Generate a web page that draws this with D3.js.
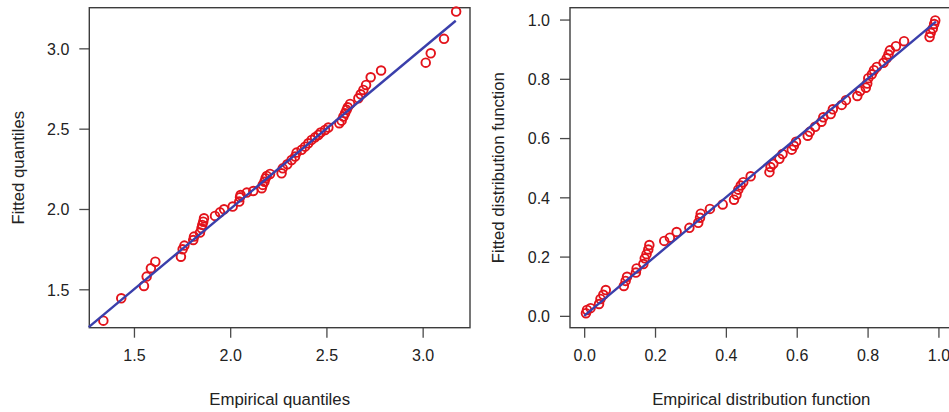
<!DOCTYPE html>
<html>
<head>
<meta charset="utf-8">
<script src="https://cdn.jsdelivr.net/npm/d3@7"></script>
<style>
  html, body { margin: 0; padding: 0; background: #fff; }
  svg { display: block; }
  text { font-family: "Liberation Sans", Arial, sans-serif; fill: #222; }
</style>
</head>
<body>
<svg id="chart" width="949" height="412"></svg>
<script>
// Q-Q plot: empirical vs fitted quantiles
const qqEmpirical = [1.341, 1.434, 1.552, 1.566, 1.588, 1.611, 1.744, 1.753, 1.762, 1.808,
  1.812, 1.843, 1.851, 1.855, 1.860, 1.864, 1.921, 1.947, 1.968, 2.013,
  2.047, 2.051, 2.054, 2.086, 2.120, 2.164, 2.169, 2.178, 2.184, 2.190,
  2.207, 2.267, 2.273, 2.297, 2.319, 2.337, 2.345, 2.371, 2.389, 2.406,
  2.423, 2.441, 2.458, 2.470, 2.493, 2.510, 2.567, 2.579, 2.588, 2.597,
  2.605, 2.611, 2.623, 2.666, 2.678, 2.692, 2.706, 2.730, 2.784, 3.016,
  3.042, 3.111, 3.174];
const qqFitted = [1.305, 1.444, 1.521, 1.579, 1.631, 1.672, 1.703, 1.749, 1.772, 1.807,
  1.828, 1.853, 1.880, 1.901, 1.921, 1.942, 1.957, 1.979, 1.998, 2.015,
  2.046, 2.073, 2.087, 2.102, 2.112, 2.129, 2.150, 2.170, 2.191, 2.206,
  2.218, 2.222, 2.253, 2.278, 2.305, 2.326, 2.351, 2.368, 2.388, 2.409,
  2.430, 2.446, 2.461, 2.476, 2.492, 2.507, 2.534, 2.550, 2.575, 2.596,
  2.617, 2.633, 2.654, 2.689, 2.714, 2.741, 2.772, 2.820, 2.862, 2.911,
  2.969, 3.059, 3.229];
const qqTicks = [1.5, 2.0, 2.5, 3.0];
const qqLineEnds = [1.265, 3.172];

// P-P plot: empirical vs fitted distribution function
const ppEmpirical = [0.005, 0.008, 0.018, 0.042, 0.046, 0.054, 0.061, 0.112, 0.117, 0.121,
  0.146, 0.148, 0.167, 0.171, 0.176, 0.181, 0.184, 0.226, 0.242, 0.261,
  0.297, 0.322, 0.327, 0.329, 0.355, 0.391, 0.423, 0.430, 0.435, 0.442,
  0.449, 0.470, 0.523, 0.526, 0.534, 0.551, 0.560, 0.586, 0.592, 0.598,
  0.631, 0.637, 0.652, 0.670, 0.675, 0.696, 0.702, 0.727, 0.739, 0.771,
  0.779, 0.795, 0.799, 0.802, 0.812, 0.818, 0.826, 0.845, 0.854, 0.859,
  0.863, 0.880, 0.903, 0.975, 0.978, 0.984, 0.988, 0.991];
const ppFitted = [0.009, 0.020, 0.026, 0.040, 0.057, 0.071, 0.087, 0.101, 0.118, 0.132,
  0.146, 0.160, 0.175, 0.194, 0.208, 0.224, 0.239, 0.253, 0.264, 0.283,
  0.297, 0.314, 0.331, 0.345, 0.361, 0.376, 0.392, 0.409, 0.426, 0.440,
  0.451, 0.471, 0.485, 0.502, 0.513, 0.530, 0.546, 0.561, 0.574, 0.588,
  0.608, 0.621, 0.638, 0.655, 0.670, 0.681, 0.697, 0.712, 0.728, 0.742,
  0.759, 0.770, 0.784, 0.802, 0.815, 0.829, 0.840, 0.854, 0.869, 0.882,
  0.896, 0.910, 0.927, 0.941, 0.955, 0.970, 0.985, 0.997];
const ppTicks = [0.0, 0.2, 0.4, 0.6, 0.8, 1.0];
const ppLineEnds = [0.0, 0.993];

const svg = d3.select("#chart");
const plotTop = 7.7, plotBottom = 327.7;
const boxColor = "#3c3c3c";
const pointColor = "#e3131b";
const lineColor = "#3a3fab";

function panel(cfg) {
  const x = d3.scaleLinear().domain(cfg.xDomain).range([cfg.left, cfg.right]);
  const y = d3.scaleLinear().domain(cfg.yDomain).range([plotBottom, plotTop]);
  const g = svg.append("g");

  // bottom axis
  const xa = g.append("g")
    .attr("transform", `translate(0,${plotBottom})`)
    .call(d3.axisBottom(x).tickValues(cfg.ticks).tickFormat(d3.format(".1f"))
      .tickSize(10).tickPadding(12));
  // left axis
  const ya = g.append("g")
    .attr("transform", `translate(${cfg.left},0)`)
    .call(d3.axisLeft(y).tickValues(cfg.ticks).tickFormat(d3.format(".1f"))
      .tickSize(10).tickPadding(10));
  [xa, ya].forEach(a => {
    a.select(".domain").remove();
    a.selectAll(".tick line").attr("stroke", "#4a4a4a").attr("stroke-width", 1.3);
    a.selectAll(".tick text")
      .style("font-family", '"Liberation Sans", Arial, sans-serif')
      .style("font-size", "16px").attr("fill", "#222");
  });
  ya.selectAll(".tick text").attr("dy", "0.36em");

  // frame
  g.append("rect")
    .attr("x", cfg.left).attr("y", plotTop)
    .attr("width", cfg.right - cfg.left).attr("height", plotBottom - plotTop)
    .attr("fill", "none").attr("stroke", boxColor).attr("stroke-width", 1.4);

  // points
  g.append("g").selectAll("circle")
    .data(cfg.xs.map((v, i) => [v, cfg.ys[i]]))
    .join("circle")
    .attr("cx", d => x(d[0])).attr("cy", d => y(d[1]))
    .attr("r", 4.3)
    .attr("fill", "none").attr("stroke", pointColor).attr("stroke-width", 1.9);

  // reference line y = x
  g.append("line")
    .attr("x1", x(cfg.lineEnds[0])).attr("y1", y(cfg.lineEnds[0]))
    .attr("x2", x(cfg.lineEnds[1])).attr("y2", y(cfg.lineEnds[1]))
    .attr("stroke", lineColor).attr("stroke-width", 2.4);

  // axis titles
  const cx = (cfg.left + cfg.right) / 2;
  g.append("text")
    .attr("x", cx).attr("y", 405)
    .attr("text-anchor", "middle").style("font-size", "16.8px")
    .text(cfg.xTitle);
  g.append("text")
    .attr("transform", `translate(${cfg.yTitleX},${(plotTop + plotBottom) / 2}) rotate(-90)`)
    .attr("text-anchor", "middle").style("font-size", "16.8px")
    .text(cfg.yTitle);
}

panel({
  left: 89.3, right: 470,
  xDomain: [1.268, 3.246], yDomain: [1.261, 3.253],
  ticks: qqTicks, xs: qqEmpirical, ys: qqFitted, lineEnds: qqLineEnds,
  xTitle: "Empirical quantiles", yTitle: "Fitted quantiles", yTitleX: 24
});

panel({
  left: 570, right: 952.6,
  xDomain: [-0.04, 1.04], yDomain: [-0.04, 1.04],
  ticks: ppTicks, xs: ppEmpirical, ys: ppFitted, lineEnds: ppLineEnds,
  xTitle: "Empirical distribution function", yTitle: "Fitted distribution function", yTitleX: 504
});
</script>
</body>
</html>
